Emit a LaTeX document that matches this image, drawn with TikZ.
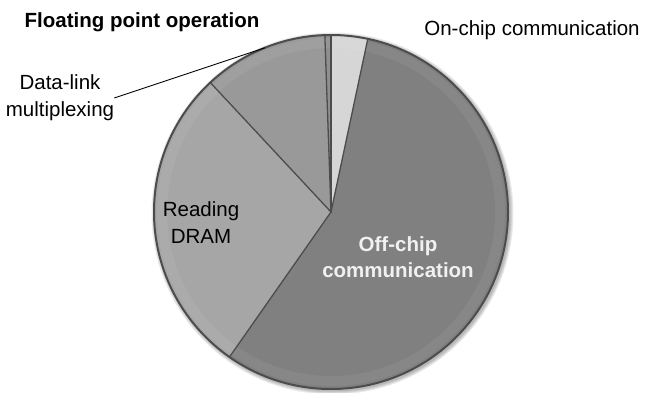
\documentclass[tikz,border=0pt]{standalone}
\usepackage{fontspec}
\setmainfont{Liberation Sans}
\usepackage{tikz}

\definecolor{offchip}{gray}{0.50}
\definecolor{onchip}{gray}{0.84}
\definecolor{flop}{gray}{0.56}
\definecolor{datalink}{gray}{0.60}
\definecolor{dram}{gray}{0.65}
\definecolor{sliceedge}{gray}{0.30}

\begin{document}
\begin{tikzpicture}[x=1pt,y=1pt,
   slice edge/.style={draw=sliceedge,line width=1.3pt,line cap=round},
   rim/.style={draw=sliceedge,line width=2pt},
   pie label/.style={font=\fontsize{20.5}{27}\selectfont,align=center,inner sep=0pt},
   bold label/.style={pie label,font=\fontsize{20.5}{26}\selectfont\bfseries}]

  \useasboundingbox (0,0) rectangle (645,392);
  \coordinate (c) at (331,180);
  \def\rad{177}

  % soft shadow under the pie
  \foreach \s in {4,3,2,1}
    \fill[black,opacity=0.08] ([shift={(1.5,-1.5)}]c) circle (\rad+\s);

  % slices
  \foreach \from/\to/\col in {-125/78/offchip,78/90/onchip,90/92/flop,92/133/datalink,133/235/dram}
    \fill[\col] (c) -- ++(\from:\rad) arc (\from:\to:\rad) -- cycle;
  % light bevel along the rim
  \draw[white,opacity=0.06,line width=10pt] (c) circle (\rad-8);
  \foreach \a in {78,90,92,133,235} \draw[slice edge] (c) -- ++(\a:\rad);
  \draw[rim] (c) circle (\rad);

  % labels
  \node[bold label] (flop) at (142,370) {Floating point operation};
  \node[pie label] (onchip) at (532,362) {On-chip communication};
  \node[pie label] (dl) at (60,294) {Data-link\\multiplexing};
  \node[pie label] (dram) at (201,169) {Reading\\DRAM};
  \node[bold label,text=white!88!gray] (offchip) at (398,135) {Off-chip\\communication};

  \coordinate (dl end) at ([shift={(111.9:\rad)}]c);
  \draw[line width=0.9pt] (dl.east) -- (dl end);
\end{tikzpicture}
\end{document}
